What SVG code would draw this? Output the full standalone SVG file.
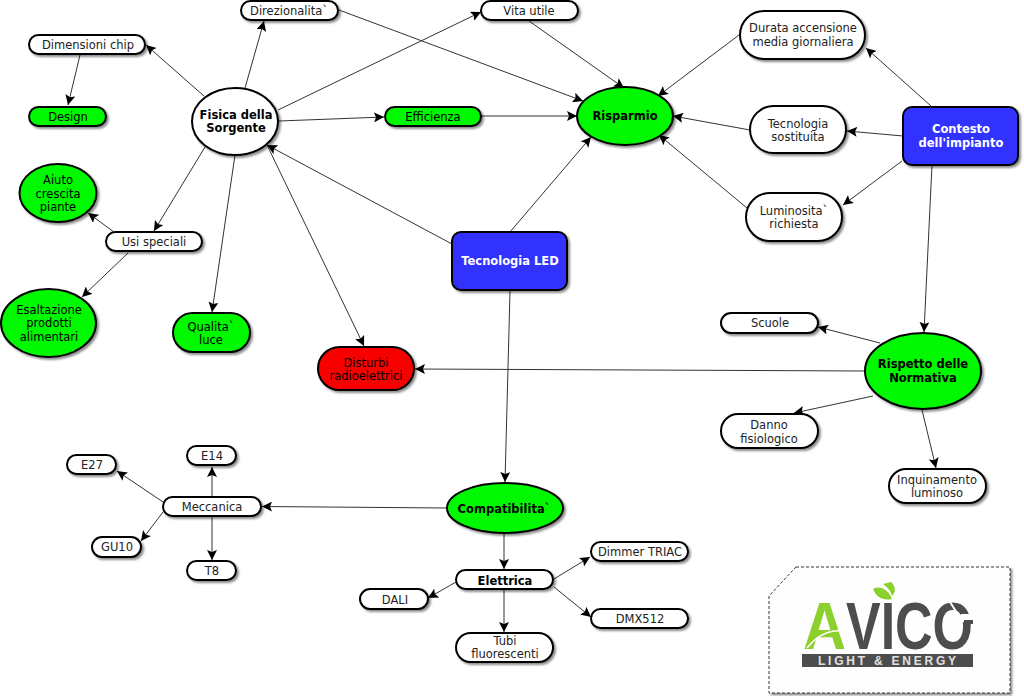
<svg xmlns="http://www.w3.org/2000/svg" width="1024" height="696" viewBox="0 0 1024 696">
<style>
text{font-family:"DejaVu Sans",Verdana,sans-serif;font-size:11.5px;text-anchor:middle;fill:#222}
.b{font-weight:bold;fill:#000}
.w{font-weight:bold;fill:#fff}
.k{fill:#000}
.n{fill:#fff;stroke:#000;stroke-width:2;filter:url(#s)}
.g{fill:#00f800}
.r{fill:#f80000}
.u{fill:#3333ff}
.logo{font-family:"Liberation Sans",sans-serif;font-size:67px;font-weight:bold;text-anchor:start}
#connectors line{stroke:#333;stroke-width:1;marker-end:url(#a)}
#connectors line.p{marker-end:none}
</style>
<defs>
<filter id="s" x="-20%" y="-20%" width="140%" height="150%"><feDropShadow dx="2" dy="2" stdDeviation="1" flood-color="#000" flood-opacity=".45"/></filter>
<marker id="a" viewBox="0 0 10 10" refX="10" refY="5" markerUnits="userSpaceOnUse" markerWidth="10" markerHeight="10" orient="auto"><path d="M0 0L10 5L0 10L2 5Z" fill="#000"/></marker>
</defs>
<rect width="1024" height="696" fill="#fff"/>
<g id="connectors">
<line x1="204" y1="96" x2="146" y2="45"/>
<line x1="80" y1="55" x2="68" y2="105"/>
<line x1="245" y1="88" x2="264" y2="21"/>
<line x1="278" y1="110" x2="481" y2="12"/>
<line x1="279" y1="121" x2="384" y2="117"/>
<line x1="481" y1="116" x2="577" y2="116"/>
<line x1="339" y1="10" x2="583" y2="101"/>
<line x1="529" y1="21" x2="624" y2="88"/>
<line x1="739" y1="35" x2="658" y2="96"/>
<line x1="750" y1="130" x2="673" y2="116"/>
<line x1="747" y1="208" x2="659" y2="135"/>
<line x1="931" y1="106" x2="866" y2="48"/>
<line x1="903" y1="136" x2="847" y2="131"/>
<line x1="902" y1="161" x2="843" y2="205"/>
<line x1="932" y1="165" x2="924" y2="332"/>
<line x1="510" y1="232" x2="591" y2="137"/>
<line x1="452" y1="244" x2="267" y2="145"/>
<line x1="510" y1="291" x2="505" y2="482"/>
<line x1="205" y1="147" x2="154" y2="231"/>
<line x1="235" y1="155" x2="212" y2="312"/>
<line x1="267" y1="145" x2="364" y2="346"/>
<line x1="114" y1="232" x2="88" y2="213"/>
<line x1="128" y1="253" x2="82" y2="297"/>
<line x1="865" y1="371" x2="415" y2="369"/>
<line x1="880" y1="343" x2="818" y2="327"/>
<line x1="873" y1="396" x2="794" y2="413"/>
<line x1="922" y1="410" x2="936" y2="468"/>
<line x1="447" y1="508" x2="262" y2="506.500"/>
<line x1="504" y1="534" x2="504" y2="569"/>
<line x1="163" y1="502" x2="117" y2="471"/>
<line x1="212" y1="496" x2="212" y2="467"/>
<line x1="163" y1="512" x2="141" y2="541"/>
<line x1="212" y1="517" x2="212" y2="560"/>
<line x1="456" y1="582" x2="428" y2="598"/>
<line x1="504" y1="590" x2="504" y2="632"/>
<line x1="554" y1="579" x2="590" y2="557"/>
<line x1="554" y1="587" x2="591" y2="617"/>
</g>
<g id="n1"><rect class="n" x="29" y="35" width="116" height="19" rx="9.500"/><text x="88" y="49">Dimensioni chip</text></g>
<g id="n2"><rect class="n g" x="29" y="107" width="77" height="19" rx="9.500"/><text class="k" x="68" y="121">Design</text></g>
<g id="n3"><rect class="n" x="241" y="1" width="97" height="19" rx="9.500"/><text x="289" y="15">Direzionalita`</text></g>
<g id="n4"><rect class="n" x="481" y="1" width="97" height="19" rx="9.500"/><text x="529" y="15">Vita utile</text></g>
<g id="n5"><ellipse class="n" cx="235" cy="121.500" rx="43" ry="33.500"/><text class="b" x="236" y="119">Fisica della</text><text class="b" x="236" y="132">Sorgente</text></g>
<g id="n6"><rect class="n g" x="385" y="107" width="96" height="19" rx="9.500"/><text class="k" x="433" y="121">Efficienza</text></g>
<g id="n7"><ellipse class="n g" cx="625" cy="116" rx="48" ry="29"/><text class="b" x="625" y="120">Risparmio</text></g>
<g id="n8"><rect class="n" x="740" y="11" width="125" height="48" rx="24"/><text x="803" y="32">Durata accensione</text><text x="803" y="46">media giornaliera</text></g>
<g id="n9"><rect class="n" x="750" y="106" width="96" height="47" rx="23.500"/><text x="798" y="128">Tecnologia</text><text x="798" y="141">sostituita</text></g>
<g id="n10"><rect class="n" x="746" y="193" width="96" height="48" rx="24"/><text x="794" y="215">Luminosita`</text><text x="794" y="228">richiesta</text></g>
<g id="n11"><rect class="n u" x="903" y="107" width="115" height="58" rx="9"/><text class="w" x="961" y="133">Contesto</text><text class="w" x="961" y="147">dell'impianto</text></g>
<g id="n12"><rect class="n u" x="452" y="232" width="115" height="58" rx="9"/><text class="w" x="510" y="265">Tecnologia LED</text></g>
<g id="n13"><ellipse class="n g" cx="58" cy="193" rx="38.500" ry="29"/><text class="k" x="58" y="184">Aiuto</text><text class="k" x="58" y="198">crescita</text><text class="k" x="58" y="211">piante</text></g>
<g id="n14"><rect class="n" x="106" y="232" width="96" height="19" rx="9.500"/><text x="154" y="246">Usi speciali</text></g>
<g id="n15"><ellipse class="n g" cx="48.500" cy="323" rx="47.500" ry="34"/><text class="k" x="49" y="314">Esaltazione</text><text class="k" x="49" y="327">prodotti</text><text class="k" x="49" y="341">alimentari</text></g>
<g id="n16"><rect class="n g" x="173" y="313" width="77" height="39" rx="19.500"/><text class="k" x="211" y="330.500">Qualita`</text><text class="k" x="211" y="344">luce</text></g>
<g id="n17"><rect class="n r" x="318" y="347" width="96" height="43" rx="21.500"/><text class="k" x="366" y="367">Disturbi</text><text class="k" x="366" y="380">radioelettrici</text></g>
<g id="n18"><rect class="n" x="721" y="313" width="97" height="20" rx="10"/><text x="770" y="327">Scuole</text></g>
<g id="n19"><ellipse class="n g" cx="923" cy="371" rx="58" ry="38"/><text class="b" x="923" y="368">Rispetto delle</text><text class="b" x="923" y="382">Normativa</text></g>
<g id="n20"><rect class="n" x="721" y="414" width="97" height="34" rx="17"/><text x="769" y="429">Danno</text><text x="769" y="443">fisiologico</text></g>
<g id="n21"><rect class="n" x="889" y="469" width="97" height="34" rx="17"/><text x="937" y="484">Inquinamento</text><text x="937" y="497">luminoso</text></g>
<g id="n22"><ellipse class="n g" cx="505" cy="508" rx="58" ry="25"/><text class="b" x="504" y="513">Compatibilita`</text></g>
<g id="n23"><rect class="n" x="163" y="497" width="98" height="19" rx="9.500"/><text x="212" y="511">Meccanica</text></g>
<g id="n24"><rect class="n" x="67" y="455" width="49" height="19" rx="9.500"/><text x="92" y="469">E27</text></g>
<g id="n25"><rect class="n" x="187" y="446" width="49" height="19" rx="9.500"/><text x="212" y="460">E14</text></g>
<g id="n26"><rect class="n" x="92" y="537" width="49" height="20" rx="10"/><text x="117" y="551">GU10</text></g>
<g id="n27"><rect class="n" x="187" y="561" width="49" height="19" rx="9.500"/><text x="212" y="575">T8</text></g>
<g id="n28"><rect class="n" x="456" y="570" width="97" height="19" rx="9.500"/><text class="b" x="505" y="585">Elettrica</text></g>
<g id="n29"><rect class="n" x="360" y="589" width="68" height="20" rx="10"/><text x="395" y="604">DALI</text></g>
<g id="n30"><rect class="n" x="456" y="633" width="97" height="29" rx="14.500"/><text x="505" y="645">Tubi</text><text x="505" y="658">fluorescenti</text></g>
<g id="n31"><rect class="n" x="591" y="542" width="97" height="19" rx="9.500"/><text x="640" y="556">Dimmer TRIAC</text></g>
<g id="n32"><rect class="n" x="591" y="609" width="97" height="19" rx="9.500"/><text x="640" y="623">DMX512</text></g>
<g id="logo">
<path d="M796 567H1010V693H769V596Z" fill="#fefefe" stroke="#333" stroke-width="1" stroke-dasharray="3 2" filter="url(#s)"/>
<text class="logo" x="803" y="649" textLength="43" lengthAdjust="spacingAndGlyphs" style="fill:#8cd02e">A</text>
<text class="logo" x="846" y="649" textLength="127" lengthAdjust="spacingAndGlyphs" style="fill:#4d4d4d">VICO</text>
<path d="M807 648C818 634 834 626 853 634" fill="none" stroke="#fff" stroke-width="1.500"/>
<path d="M950 602L957 613M962 615H975V621H962Z" fill="#fff" stroke="#fff" stroke-width="2"/>
<rect x="964" y="620" width="9" height="4" fill="#4d4d4d"/>
<path d="M873 589C880 585 889 590 892 599C883 601 876 597 873 589ZM883 584L891 582C896 587 896 592 892 596C891 591 887 587 883 584Z" fill="#8cd02e"/>
<rect x="802" y="654" width="171" height="13" fill="#4d4d4d"/>
<text x="887" y="665" textLength="138" style="font-family:'Liberation Sans',sans-serif;font-size:12px;font-weight:bold;fill:#e0e0e0">LIGHT &amp; ENERGY</text>
</g>
</svg>
